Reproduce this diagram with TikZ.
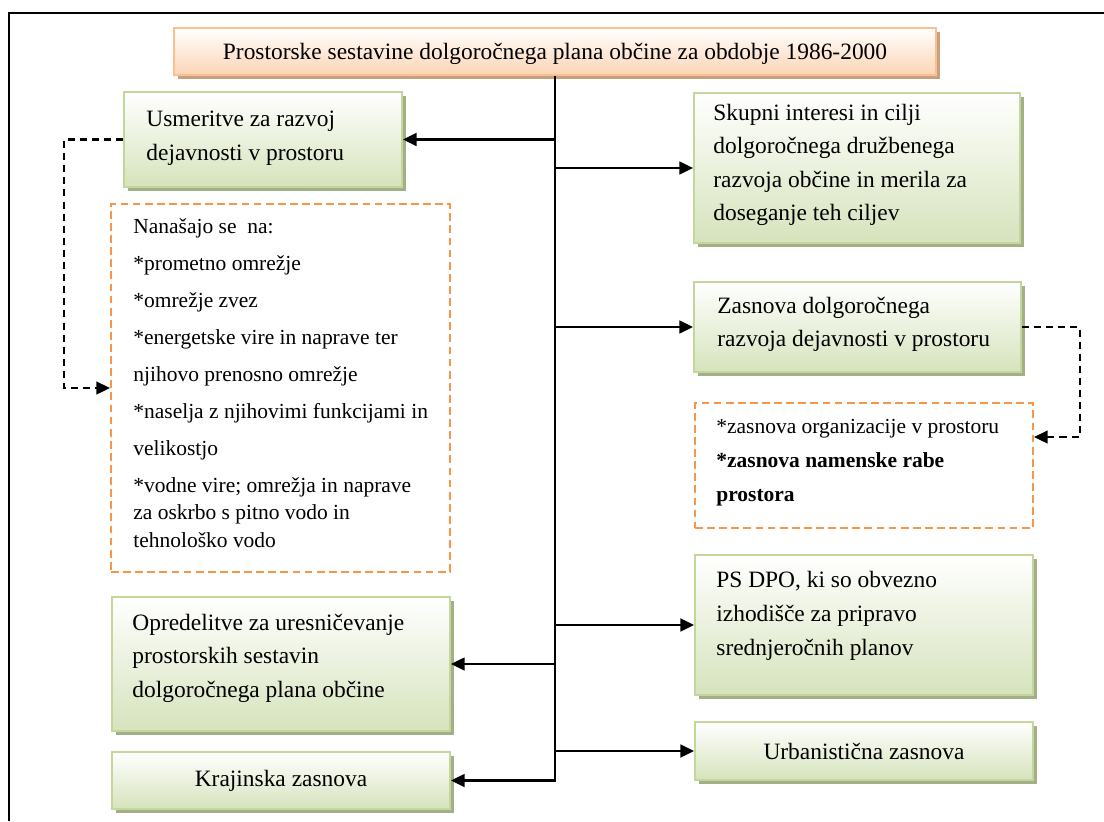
\documentclass[tikz,border=0pt]{standalone}
\usepackage{fontspec}
\setmainfont{Liberation Serif}
\usetikzlibrary{arrows.meta,positioning,fit,shadows}
\definecolor{psOrange}{RGB}{250,192,144}
\definecolor{psPeach}{RGB}{251,212,180}
\definecolor{psTan}{RGB}{200,160,125}
\definecolor{psGreen}{RGB}{195,214,155}
\definecolor{psLime}{RGB}{214,227,188}
\definecolor{psOlive}{RGB}{165,175,135}
\definecolor{psDash}{RGB}{247,150,70}

\begin{document}
\begin{tikzpicture}[
  x=0.018cm, y=-0.018cm,
  font=\fontsize{12}{17}\selectfont,
  tbox/.style={draw=psOrange, line width=1pt, top color=white, bottom color=psPeach, inner sep=0pt,
    drop shadow={shadow xshift=2pt, shadow yshift=-2pt, fill=psTan, opacity=1}},
  gbox/.style={draw=psGreen, line width=1pt, top color=white, bottom color=psLime, inner sep=0pt,
    drop shadow={shadow xshift=1.8pt, shadow yshift=-1.8pt, fill=psOlive, opacity=1}},
  dbox/.style={draw=psDash, line width=1pt, dash pattern=on 4pt off 2.2pt, inner sep=0pt},
  txt/.style={anchor=north west, inner sep=0pt, align=left},
  small/.style={font=\fontsize{11}{18.95}\selectfont},
  arr/.style={line width=1.3pt, -{Triangle[length=7pt,width=6.5pt]}},
  darr/.style={line width=1.1pt, dash pattern=on 3.6pt off 2.6pt, -{Triangle[length=7pt,width=6.5pt]}}
]
\useasboundingbox (0,0) rectangle (1104,821);

% frame
\draw[line width=1.2pt] (9,821) -- (9,13) -- (1104,13);

%============ HEAD ============
\node[tbox, fit={(174,28) (936,75)}] (title) {};
\node[inner sep=0pt, yshift=-1pt] (titleT) at (title.center) {Prostorske sestavine dolgoročnega plana občine za obdobje 1986-2000};

%============ LEFT ============
\node[gbox, fit={(124,92) (402,187)}] (usm) {};
\node[txt] (usmT) at (146,111) {Usmeritve za razvoj\\dejavnosti v prostoru};

\node[dbox, fit={(111,204) (450,572)}] (nan) {};
\node[txt, small] (nanT) at (133,218) {Nanašajo se~ na:\\*prometno omrežje\\*omrežje zvez\\
  *energetske vire in naprave ter\\njihovo prenosno omrežje\\*naselja z njihovimi funkcijami in\\
  velikostjo\\*vodne vire; omrežja in naprave\\[-4.9pt]za oskrbo s pitno vodo in\\[-4.9pt]tehnološko vodo};

\node[gbox, fit={(112,597) (450,731)}] (opr) {};
\node[txt] (oprT) at (132,614) {Opredelitve za uresničevanje\\prostorskih sestavin\\dolgoročnega plana občine};

\node[gbox, fit={(112,752) (450,809)}] (kra) {};
\node[inner sep=0pt] (kraT) at (kra.center) {Krajinska zasnova};

%============ RIGHT ============
\node[gbox, fit={(694,93) (1020,243)}] (sku) {};
\node[txt] (skuT) at (713,104) {Skupni interesi in cilji\\dolgoročnega družbenega\\razvoja občine in merila za\\doseganje teh ciljev};

\node[gbox, fit={(694,282) (1021,372)}] (zas) {};
\node[txt] (zasT) at (717,297) {Zasnova dolgoročnega\\razvoja dejavnosti v prostoru};

\node[dbox, fit={(695,403) (1033,528)}] (zsn) {};
\node[txt, font=\fontsize{11}{17.5}\selectfont] (zsnT) at (716,419) {*zasnova organizacije v prostoru\\\textbf{*zasnova namenske rabe}\\\textbf{prostora}};

\node[gbox, fit={(695,555) (1033,695)}] (psd) {};
\node[txt, font=\fontsize{12}{17.4}\selectfont] (psdT) at (716,571) {PS DPO, ki so obvezno\\izhodišče za pripravo\\srednjeročnih planov};

\node[gbox, fit={(695,722) (1033,780)}] (urb) {};
\node[inner sep=0pt] (urbT) at (urb.center) {Urbanistična zasnova};

%============ CONNECTORS ============
\draw[arr] (title.south) |- (kra.east);
\draw[arr] (title.south |- usm.east) -- (usm.east);
\draw[arr] (title.south |- opr.east) -- (opr.east);
\draw[arr] (title.south |- sku.west) -- (sku.west);
\draw[arr] (title.south |- zas.west) -- (zas.west);
\draw[arr] (title.south |- psd.west) -- (psd.west);
\draw[arr] (title.south |- urb.west) -- (urb.west);

\coordinate (lbend) at (64,388);
\draw[darr] (usm.west) -| (lbend) -- (nan.west);
\coordinate (rbend) at (1080,437);
\draw[darr] (zas.east) -| (rbend) -- (rbend -| zsn.east);

\end{tikzpicture}
\end{document}
